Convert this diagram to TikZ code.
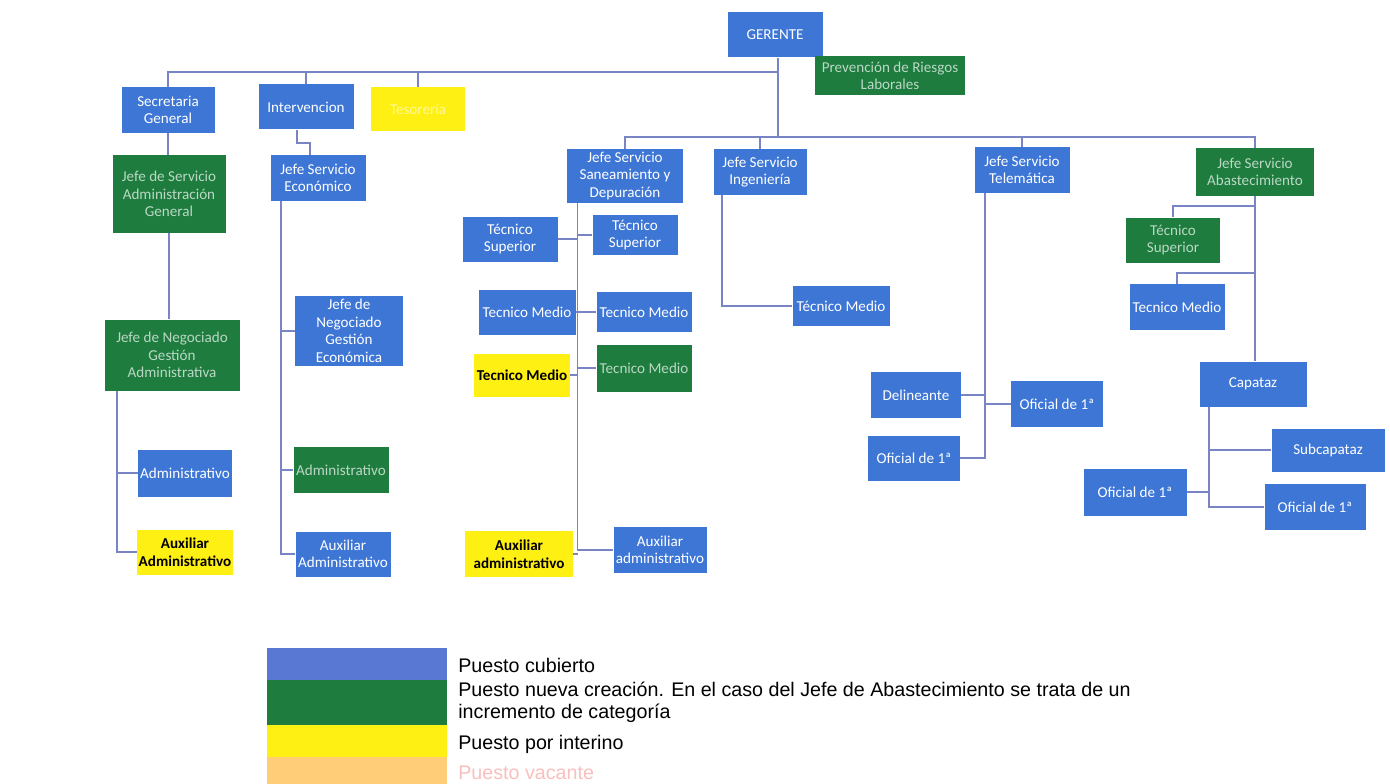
\documentclass[tikz,border=0pt]{standalone}
\usepackage{fontspec}
\setmainfont{Liberation Sans}
\newfontfamily\boxfont{Carlito}
\usepackage{xcolor}
\usetikzlibrary{calc}

\definecolor{orgblue}{RGB}{62,118,214}
\definecolor{orggreen}{RGB}{30,124,62}
\definecolor{orgyellow}{RGB}{255,240,20}
\definecolor{orgorange}{RGB}{255,204,120}
\definecolor{legblue}{RGB}{88,120,212}
\definecolor{linecol}{RGB}{120,132,196}
\definecolor{vacante}{RGB}{250,190,190}

\begin{document}
\begin{tikzpicture}[x=0.02cm, y=-0.02cm]
        % ================= estilos =================
        \tikzset{
            % tamano de caja en pixeles
            boxsize/.style 2 args={minimum width=#1*0.02cm, minimum height=#2*0.02cm},
            % caja base
            orgbox/.style={rectangle, inner sep=1pt, align=center, font=\boxfont\fontsize{8.6}{10}\selectfont},
            % puesto cubierto
            bluebox/.style={orgbox, fill=orgblue, text=white},
            % puesto nueva creacion
            greenbox/.style={orgbox, fill=orggreen, text=white!70!orggreen},
            % puesto por interino
            yellowbox/.style={orgbox, fill=orgyellow, text=black, font=\boxfont\bfseries\fontsize{8.6}{10}\selectfont},
            % lineas del organigrama
            conn/.style={draw=linecol, line width=0.9pt},
            % texto de la leyenda
            legtext/.style={anchor=west, inner sep=0pt, font=\fontsize{11.2}{13}\selectfont}
        }
        \useasboundingbox (0,0) rectangle (1390,784);

        % ================= direccion =================
        \node[bluebox, boxsize={95}{45}] (ger) at (775,35) {GERENTE};
        \node[greenbox, boxsize={150}{39}] (prl) at (890,76) {Prevención de Riesgos\\Laborales};
        \node[bluebox, boxsize={93}{46}] (sec) at (168,110) {Secretaria\\General};
        \node[bluebox, boxsize={95}{45}] (int) at (306,107) {Intervencion};
        \node[yellowbox, boxsize={94}{44}, text=white!55!orgyellow, font=\boxfont\fontsize{8.6}{10}\selectfont] (tes) at (418,109) {Tesorería};

        \coordinate (busA) at (778,72);
        \coordinate (busB) at (778,137);
        \draw[conn] (ger.south -| busB) -- (busB);
        \draw[conn] (sec.north) |- (busA);
        \draw[conn] (int.north) -- (int.north |- busA);
        \draw[conn] (tes.north) -- (tes.north |- busA);

        % ================= jefes de servicio =================
        \node[bluebox, boxsize={116}{54}] (san) at (625,176) {Jefe Servicio\\Saneamiento y\\Depuración};
        \node[bluebox, boxsize={93}{46}] (ing) at (760,172) {Jefe Servicio\\Ingeniería};
        \node[bluebox, boxsize={95}{45}] (tel) at (1022,170) {Jefe Servicio\\Telemática};
        \node[greenbox, boxsize={118}{47}] (abs) at (1255,172) {Jefe Servicio\\Abastecimiento};

        \draw[conn] (san.north) |- (busB);
        \draw[conn] (ing.north) -- (ing.north |- busB);
        \draw[conn] (tel.north) -- (tel.north |- busB);
        \draw[conn] (abs.north) |- (busB);

        % ================= secretaria general =================
        \node[greenbox, boxsize={113}{77}] (adm) at (169,194) {Jefe de Servicio\\Administración\\General};
        \node[greenbox, boxsize={135}{71}] (neg) at (172,355) {Jefe de Negociado\\Gestión\\Administrativa};
        \node[bluebox, boxsize={94}{47}] (adva) at (185,473) {Administrativo};
        \node[yellowbox, boxsize={95}{45}] (auxa) at (185,552) {Auxiliar\\Administrativo};

        \draw[conn] (sec.south) -- (sec.south |- adm.north);
        \draw[conn] (adm.south) -- (adm.south |- neg.north);
        \coordinate (negx) at ([xshift=0.26cm]neg.south west);
        \draw[conn] (negx) |- (adva.west);
        \draw[conn] (negx) |- (auxa.west);

        % ================= intervencion =================
        \node[bluebox, boxsize={95}{45}] (eco) at (318,178) {Jefe Servicio\\Económico};
        \node[bluebox, boxsize={108}{70}] (nge) at (349,331) {Jefe de\\Negociado\\Gestión\\Económica};
        \node[greenbox, boxsize={95}{46}] (adve) at (341,470) {Administrativo};
        \node[bluebox, boxsize={95}{45}] (auxe) at (343,554) {Auxiliar\\Administrativo};

        \draw[conn] ([xshift=-0.18cm]int.south) -- ++(0,13) -| ([xshift=-0.16cm]eco.north);
        \coordinate (ecox) at ([xshift=0.22cm]eco.south west);
        \draw[conn] (ecox) |- (nge.west);
        \draw[conn] (ecox) |- (adve.west);
        \draw[conn] (ecox) |- (auxe.west);

        % ================= saneamiento y depuracion =================
        \node[bluebox, boxsize={95}{45}] (ts1) at (510,239) {Técnico\\Superior};
        \node[bluebox, boxsize={85}{40}] (ts2) at (635,235) {Técnico\\Superior};
        \node[bluebox, boxsize={97}{45}] (tm1) at (527,312) {Tecnico Medio};
        \node[bluebox, boxsize={95}{40}] (tm2) at (644,312) {Tecnico Medio};
        \node[yellowbox, boxsize={96}{43}] (tmy) at (522,375) {Tecnico Medio};
        \node[greenbox, boxsize={95}{47}] (tmv) at (644,368) {Tecnico Medio};
        \node[yellowbox, boxsize={108}{46}] (auxy) at (519,554) {Auxiliar\\administrativo};
        \node[bluebox, boxsize={93}{46}] (aux2) at (660,550) {Auxiliar\\administrativo};

        \coordinate (sanx) at ([xshift=0.22cm]san.south west);
        \draw[conn] (sanx) |- (aux2.west);
        \draw[conn] (ts2.west) -- (ts2.west -| sanx);
        \draw[conn] (tm2.west) -- (tm2.west -| sanx);
        \draw[conn] (tmv.west) -- (tmv.west -| sanx);
        \draw[conn] (ts1.east) -- (ts1.east -| sanx);
        \draw[conn] (tm1.east) -- (tm1.east -| sanx);
        \draw[conn] (tmy.east) -- (tmy.east -| sanx);
        \draw[conn] (auxy.east) -- (auxy.east -| sanx);

        % ================= ingenieria =================
        \node[bluebox, boxsize={97}{40}] (tmi) at (841,306) {Técnico Medio};
        \draw[conn] ([xshift=0.18cm]ing.south west) |- (tmi.west);

        % ================= telematica =================
        \node[bluebox, boxsize={90}{46}] (del) at (916,395) {Delineante};
        \node[bluebox, boxsize={92}{45}] (ofl) at (914,458) {Oficial de 1ª};
        \node[bluebox, boxsize={92}{46}] (ofr) at (1057,404) {Oficial de 1ª};

        \coordinate (telx) at ([xshift=0.22cm]tel.south west);
        \draw[conn] (telx) |- (ofl.east);
        \draw[conn] (ofr.west) -- (ofr.west -| telx);
        \draw[conn] (del.east) -- (del.east -| telx);

        % ================= abastecimiento =================
        \node[greenbox, boxsize={94}{45}] (tsa) at (1173,240) {Técnico\\Superior};
        \node[bluebox, boxsize={95}{46}] (tma) at (1177,307) {Tecnico Medio};
        \node[bluebox, boxsize={107}{45}] (cap) at (1253,384) {Capataz};
        \node[bluebox, boxsize={113}{43}] (sub) at (1328,450) {Subcapataz};
        \node[bluebox, boxsize={101}{46}] (ofa) at (1315,507) {Oficial de 1ª};
        \node[bluebox, boxsize={103}{47}] (ofb) at (1135,492) {Oficial de 1ª};

        \draw[conn] (abs.south) -- (abs.south |- cap.north);
        \draw[conn] (tsa.north) |- ([yshift=-0.2cm]abs.south);
        \draw[conn] (tma.north) |- ([yshift=-1.54cm]abs.south);
        \coordinate (capx) at ([xshift=0.2cm]cap.south west);
        \draw[conn] (capx) |- (ofa.west);
        \draw[conn] (sub.west) -- (sub.west -| capx);
        \draw[conn] (ofb.east) -- (ofb.east -| capx);

        % ================= leyenda =================
        \fill[legblue] (267,648) rectangle (447,680);
        \fill[orggreen] (267,680) rectangle (447,725);
        \fill[orgyellow] (267,725) rectangle (447,757);
        \fill[orgorange] (267,757) rectangle (447,784);

        \node[legtext] (l1) at (458,665) {Puesto cubierto};
        \node[legtext] (l2) at (458,689) {Puesto nueva creación. En el caso del Jefe de Abastecimiento se trata de un};
        \node[legtext] (l3) at (458,713) {incremento de categoría};
        \node[legtext] (l4) at (458,744) {Puesto por interino};
        \node[legtext, text=vacante] (l5) at (458,773) {Puesto vacante};

    \end{tikzpicture}
\end{document}
